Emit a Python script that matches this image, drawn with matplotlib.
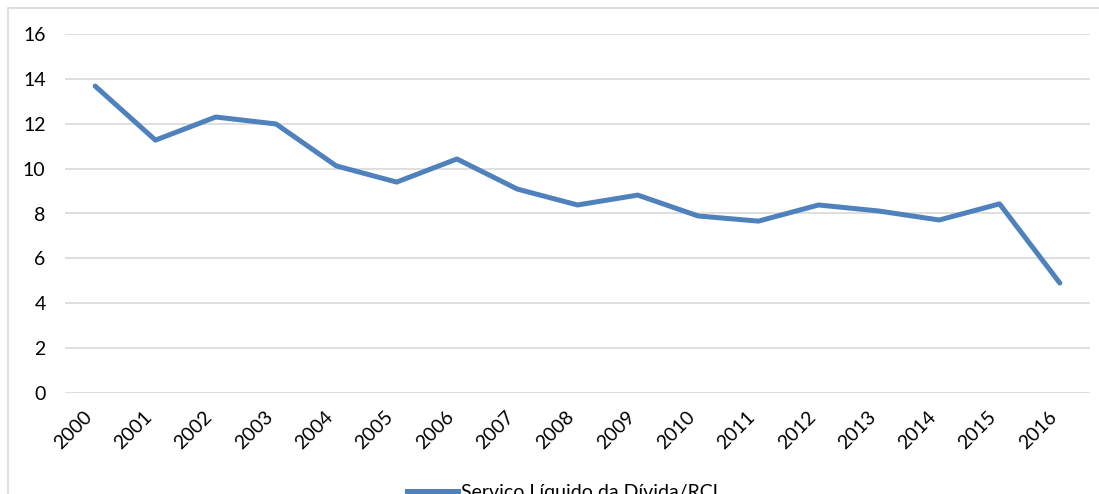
import matplotlib
matplotlib.use("Agg")
import matplotlib.pyplot as plt
from matplotlib.patches import Rectangle
from matplotlib.lines import Line2D

plt.rcParams['font.family'] = ['Lato', 'DejaVu Sans']

anos = ['2000', '2001', '2002', '2003', '2004', '2005', '2006', '2007', '2008',
        '2009', '2010', '2011', '2012', '2013', '2014', '2015', '2016']
servico_divida_rcl = [13.68, 11.27, 12.30, 11.99, 10.12, 9.40, 10.43, 9.09, 8.38,
                      8.82, 7.89, 7.66, 8.38, 8.11, 7.71, 8.43, 4.90]
y_ticks = [0, 2, 4, 6, 8, 10, 12, 14, 16]

azul = '#4F81BD'
cinza = '#D9D9D9'

fig = plt.figure(figsize=(10.99, 4.94), dpi=100)
# moldura da área do gráfico (cortada à direita e em baixo)
fig.patches.append(Rectangle((8 / 1099, -0.1), 1.2, 1 - 8 / 494 + 0.1,
                             transform=fig.transFigure, fill=False,
                             edgecolor=cinza, linewidth=1.2, zorder=0))

ax = fig.add_axes([65 / 1099, 1 - 393 / 494, 1025 / 1099, 359 / 494])
x = list(range(len(anos)))
ax.plot(x, servico_divida_rcl, color=azul, linewidth=3.6, solid_capstyle='round',
        solid_joinstyle='round', zorder=3)

ax.set_xlim(-0.5, len(anos) - 0.5)
ax.set_ylim(0, 16)
ax.set_yticks(y_ticks)
ax.set_xticks(x)
ax.set_xticklabels(anos, rotation=45, ha='right')
ax.tick_params(axis='x', length=0, pad=11, labelsize=14)
ax.tick_params(axis='y', length=0, pad=14, labelsize=14)
ax.grid(axis='y', color=cinza, linewidth=1.2)
ax.set_axisbelow(True)
for s in ax.spines.values():
    s.set_visible(False)

handle = Line2D([], [], color=azul, linewidth=3.6)
fig.legend([handle], ['Serviço Líquido da Dívida/RCL'], loc='center',
           bbox_to_anchor=(565 / 1099, 1 - 492 / 494), frameon=False,
           fontsize=14, handlelength=2.6, handletextpad=0.15,
           borderpad=0, borderaxespad=0)

fig.savefig('out.png', dpi=100)
